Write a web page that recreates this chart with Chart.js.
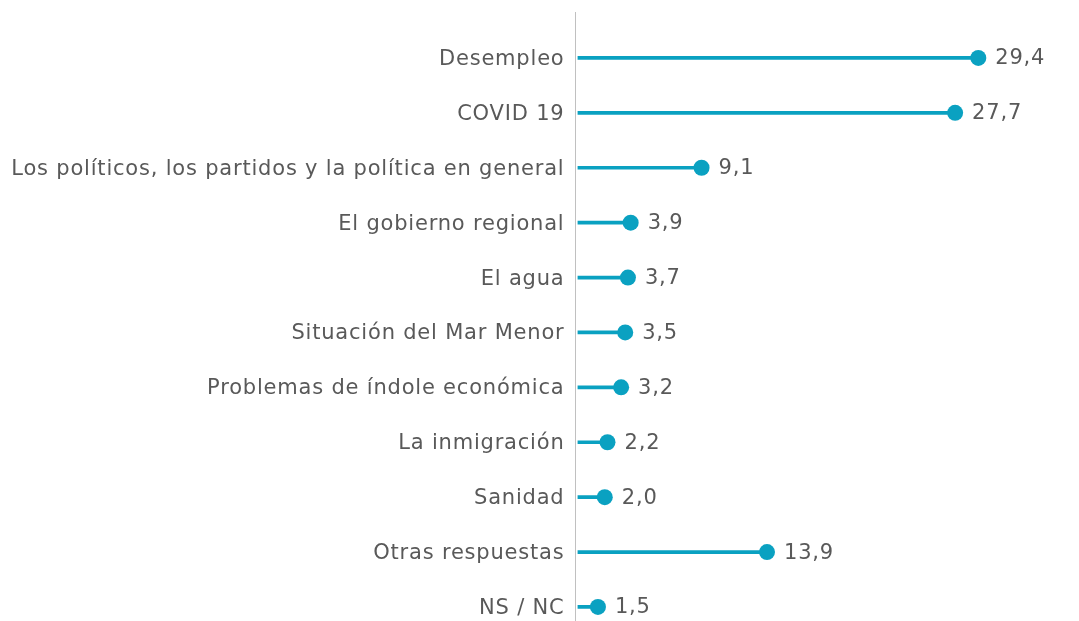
<!DOCTYPE html>
<html>
<head>
<meta charset="utf-8">
<script src="https://cdn.jsdelivr.net/npm/chart.js@4"></script>
<style>
  html, body { margin: 0; padding: 0; background: #fff; overflow: hidden; }
  canvas { display: block; }
</style>
</head>
<body>
<canvas id="chart" width="1079" height="660"></canvas>
<script>
'use strict'

var categories = [
  'Desempleo',
  'COVID 19',
  'Los políticos, los partidos y la política en general',
  'El gobierno regional',
  'El agua',
  'Situación del Mar Menor',
  'Problemas de índole económica',
  'La inmigración',
  'Sanidad',
  'Otras respuestas',
  'NS / NC'
];

var values = [29.4, 27.7, 9.1, 3.9, 3.7, 3.5, 3.2, 2.2, 2.0, 13.9, 1.5];

var teal = '#0aa1c1';
var textGray = '#595959';
var fontFamily = '"DejaVu Sans", Verdana, sans-serif';
var spacing = '0.8px';

// wider letter spacing for all text, like the original font
var letterSpace = {
  id: 'letterSpace',
  beforeDraw: function(chart) {
    chart.ctx.letterSpacing = spacing;
  }
};

// axis line runs from the top of the picture, above the plot area
var axisLine = {
  id: 'axisLine',
  afterDraw: function(chart) {
    var c = chart.ctx;
    c.save();
    c.strokeStyle = '#c0c0c0';
    c.lineWidth = 1;
    c.beginPath();
    c.moveTo(575.5, 12);
    c.lineTo(575.5, chart.height);
    c.stroke();
    c.restore();
  }
};

// value labels to the right of each dot
var valueLabels = {
  id: 'valueLabels',
  afterDatasetsDraw: function(chart) {
    var c = chart.ctx;
    var meta = chart.getDatasetMeta(1);
    c.save();
    c.letterSpacing = spacing;
    c.font = '21px ' + fontFamily;
    c.fillStyle = textGray;
    c.textAlign = 'left';
    c.textBaseline = 'middle';
    meta.data.forEach(function(pt, i) {
      c.fillText(values[i].toFixed(1).replace('.', ','), pt.x + 17, pt.y + 1);
    });
    c.restore();
  }
};

var ctx = document.getElementById('chart');
var mychart = new Chart(ctx, {
  type: 'bar',
  data: {
    labels: categories,
    datasets: [{
      label: 'linea',
      data: values.map(function(v) { return [0, v]; }),
      backgroundColor: teal,
      borderWidth: 0,
      barThickness: 3,
      order: 2
    }, {
      type: 'line',
      label: 'punto',
      data: values,
      showLine: false,
      pointRadius: 8,
      pointHoverRadius: 8,
      pointBackgroundColor: teal,
      pointBorderColor: teal,
      pointBorderWidth: 0,
      order: 1
    }]
  },
  options: {
    indexAxis: 'y',
    responsive: false,
    animation: false,
    layout: { padding: { top: 30.5, bottom: 25.5, right: 4, left: 0 } },
    plugins: {
      legend: { display: false },
      tooltip: { enabled: false }
    },
    scales: {
      x: {
        display: false,
        min: 0,
        max: 36.2
      },
      y: {
        offset: true,
        afterFit: function(scale) { scale.width = 577.5; },
        grid: { display: false, drawTicks: false },
        border: { display: false },
        ticks: {
          padding: 13,
          labelOffset: 1.5,
          color: textGray,
          font: { family: fontFamily, size: 21 }
        }
      }
    }
  },
  plugins: [letterSpace, axisLine, valueLabels]
});
</script>
</body>
</html>
